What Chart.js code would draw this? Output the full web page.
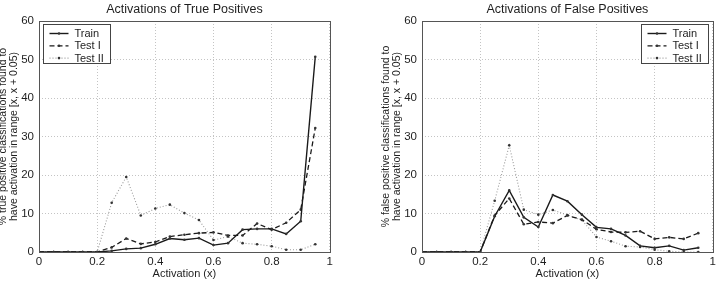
<!DOCTYPE html>
<html>
<head>
<meta charset="utf-8">
<script src="https://cdn.jsdelivr.net/npm/chart.js@4"></script>
<style>
html, body { margin: 0; padding: 0; background: #fff; overflow: hidden; width: 719px; height: 288px; position: relative; }
.box { position: absolute; top: 0; width: 359px; height: 288px; }
#boxTP { left: -23px; }
#boxFP { left: 360px; }
</style>
</head>
<body>
<div class="box" id="boxTP"><canvas id="tpChart" width="359" height="288"></canvas></div>
<div class="box" id="boxFP"><canvas id="fpChart" width="359" height="288"></canvas></div>
<script>
// activation bins (lower edge of [x, x + 0.05))
const activations = [0, 0.05, 0.1, 0.15, 0.2, 0.25, 0.3, 0.35, 0.4, 0.45, 0.5, 0.55, 0.6, 0.65, 0.7, 0.75, 0.8, 0.85, 0.9, 0.95];
const xTicks = [0, 0.2, 0.4, 0.6, 0.8, 1];
const yTicks = [0, 10, 20, 30, 40, 50, 60];
const seriesNames = ['Train', 'Test I', 'Test II'];

// true positives (%)
const tpTrain  = [0, 0, 0, 0, 0, 0.3, 0.8, 1.0, 2.0, 3.5, 3.2, 3.6, 1.8, 2.3, 5.8, 6.0, 6.0, 4.7, 8.0, 50.7];
const tpTestI  = [0, 0, 0, 0, 0, 1.2, 3.5, 2.1, 2.6, 4.0, 4.5, 4.9, 5.1, 4.3, 4.3, 7.4, 5.8, 7.6, 11.0, 32.2];
const tpTestII = [0, 0, 0, 0, 0, 12.8, 19.5, 9.5, 11.3, 12.3, 10.1, 8.3, 3.1, 4.0, 2.3, 2.0, 1.5, 0.6, 0.6, 2.0];

// false positives (%)
const fpTrain  = [0, 0, 0, 0, 0, 9.3, 16.0, 9.0, 6.5, 14.8, 13.2, 9.7, 6.4, 6.0, 4.3, 1.6, 1.1, 1.6, 0.5, 1.1];
const fpTestI  = [0, 0, 0, 0, 0, 9.5, 13.9, 7.2, 7.8, 7.5, 9.5, 8.4, 5.9, 5.2, 5.1, 5.4, 3.4, 3.8, 3.4, 4.9];
const fpTestII = [0, 0, 0, 0, 0, 13.3, 27.7, 11.0, 9.7, 10.9, 9.6, 8.3, 3.9, 2.8, 1.5, 1.3, 0.6, 0.2, 0, 0];

const FONT = 'Arial, "Liberation Sans", Helvetica, sans-serif';
const TEXT = '#1e1e1e';

// line styles for Train / Test I / Test II
const lineStyles = [
    { borderColor: '#1a1a1a', borderWidth: 1.4, borderDash: [] },
    { borderColor: '#1a1a1a', borderWidth: 1.3, borderDash: [5, 3] },
    { borderColor: '#9a9a9a', borderWidth: 1.1, borderDash: [1, 2] }
];

function makeDatasets(values) {
    return values.map((vals, i) => ({
        label: seriesNames[i],
        data: activations.map((x, j) => ({ x: x, y: vals[j] })),
        borderColor: lineStyles[i].borderColor,
        borderWidth: lineStyles[i].borderWidth,
        borderDash: lineStyles[i].borderDash,
        pointRadius: 1.3,
        pointBackgroundColor: '#333',
        pointBorderWidth: 0,
        fill: false,
        tension: 0
    }));
}

// box around the plot area
const frame = {
    id: 'frame',
    afterDraw(chart) {
        const { ctx, chartArea: a } = chart;
        ctx.save();
        ctx.strokeStyle = '#555';
        ctx.lineWidth = 1;
        ctx.strokeRect(Math.round(a.left) + 0.5, Math.round(a.top) + 0.5,
            Math.round(a.right - a.left), Math.round(a.bottom - a.top));
        ctx.restore();
    }
};

// matlab-like legend drawn inside the axes
const legendBox = {
    id: 'legendBox',
    afterDraw(chart, args, opts) {
        const { ctx, chartArea: a } = chart;
        const w = 67, h = 39;
        const x = Math.round(opts.side === 'left' ? a.left + 4 : a.right - 5 - w) + 0.5;
        const y = Math.round(a.top + 3) + 0.5;
        ctx.save();
        ctx.fillStyle = '#fff';
        ctx.fillRect(x, y, w, h);
        ctx.strokeStyle = '#444';
        ctx.lineWidth = 1;
        ctx.strokeRect(x, y, w, h);
        ctx.font = '11px ' + FONT;
        ctx.textBaseline = 'middle';
        ctx.textAlign = 'left';
        chart.data.datasets.forEach((ds, i) => {
            const ry = y + 9 + i * 12.3;
            ctx.strokeStyle = ds.borderColor;
            ctx.lineWidth = ds.borderWidth;
            ctx.setLineDash(ds.borderDash);
            ctx.beginPath();
            ctx.moveTo(x + 6, ry);
            ctx.lineTo(x + 25, ry);
            ctx.stroke();
            ctx.setLineDash([]);
            ctx.fillStyle = '#333';
            ctx.beginPath();
            ctx.arc(x + 15.5, ry, 1.3, 0, Math.PI * 2);
            ctx.fill();
            ctx.fillStyle = TEXT;
            ctx.fillText(ds.label, x + 31, ry + 0.5);
        });
        ctx.restore();
    }
};

function makeChart(canvasId, title, yTitle, values, side) {
    const ctx = document.getElementById(canvasId).getContext('2d');
    return new Chart(ctx, {
        type: 'line',
        data: { datasets: makeDatasets(values) },
        options: {
            responsive: false,
            animation: false,
            layout: { padding: { top: 0, right: 5, bottom: 0, left: 0 } },
            plugins: {
                legend: { display: false },
                tooltip: { enabled: false },
                title: {
                    display: true,
                    text: title,
                    fullSize: false,
                    color: TEXT,
                    font: { family: FONT, size: 12.5, weight: 'normal', lineHeight: 1.2 },
                    padding: { top: 2, bottom: 4 }
                },
                legendBox: { side: side }
            },
            scales: {
                x: {
                    type: 'linear',
                    min: 0,
                    max: 1,
                    afterBuildTicks: scale => { scale.ticks = xTicks.map(v => ({ value: v })); },
                    afterFit: scale => { scale.height = 36; },
                    ticks: {
                        color: TEXT,
                        font: { family: FONT, size: 11.5 },
                        padding: 3,
                        maxRotation: 0,
                        callback: v => String(Math.round(v * 10) / 10)
                    },
                    grid: { color: '#c4c4c4', lineWidth: 1, drawTicks: false },
                    border: { display: false, dash: [1, 2] },
                    title: {
                        display: true,
                        text: 'Activation (x)',
                        color: TEXT,
                        font: { family: FONT, size: 11, lineHeight: 1.1 },
                        padding: { top: 0, bottom: 8 }
                    }
                },
                y: {
                    min: 0,
                    max: 60,
                    afterBuildTicks: scale => { scale.ticks = yTicks.map(v => ({ value: v })); },
                    afterFit: scale => { scale.width = 62; },
                    ticks: {
                        color: TEXT,
                        font: { family: FONT, size: 11.5 },
                        padding: 5
                    },
                    grid: { color: '#c4c4c4', lineWidth: 1, drawTicks: false },
                    border: { display: false, dash: [1, 2] },
                    title: {
                        display: true,
                        text: [yTitle, 'have activation in range [x, x + 0.05)'],
                        color: TEXT,
                        font: { family: FONT, size: 10.5, lineHeight: 1.05 },
                        padding: { top: 20.5, bottom: 0 }
                    }
                }
            }
        },
        plugins: [frame, legendBox]
    });
}

makeChart('tpChart', 'Activations of True Positives',
    '% true positive classifications found to', [tpTrain, tpTestI, tpTestII], 'left');
makeChart('fpChart', 'Activations of False Positives',
    '% false positive classifications found to', [fpTrain, fpTestI, fpTestII], 'right');
</script>
</body>
</html>
